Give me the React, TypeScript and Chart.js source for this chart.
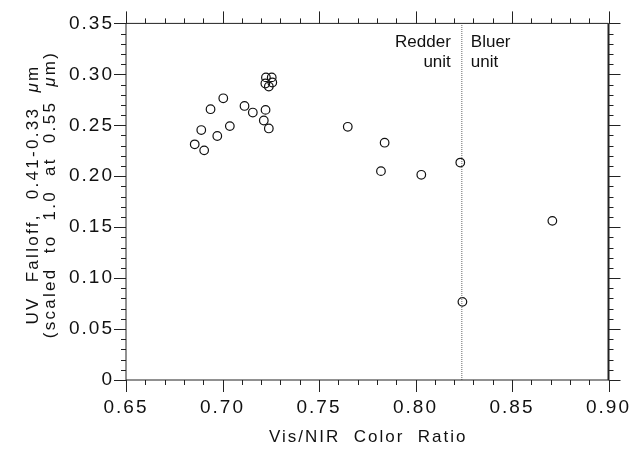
import React, { useEffect, useRef } from "react";
import { Chart, registerables } from "chart.js";

Chart.register(...registerables);

// ---- data ----
const colorRatio = [
  0.6856, 0.689, 0.6905, 0.6938, 0.6973, 0.7004, 0.7038, 0.7114, 0.7157, 0.7214,
  0.7223, 0.724, 0.7225, 0.7255, 0.7222, 0.7258, 0.724, 0.7649, 0.7821, 0.784,
  0.803, 0.8232, 0.8243, 0.8709,
];
const uvFalloff = [
  0.2313, 0.2453, 0.2254, 0.2658, 0.2395, 0.2765, 0.2492, 0.269, 0.2625, 0.2547,
  0.2651, 0.2469, 0.297, 0.297, 0.291, 0.292, 0.288, 0.2485, 0.205, 0.2329,
  0.2014, 0.2134, 0.0767, 0.1562,
];
const dividerX = [0.824, 0.824];
const dividerY = [0, 0.35];
const xRange = [0.65, 0.9];
const yRange = [0, 0.35];
const xTitle = "Vis/NIR  Color  Ratio";
const yTitle1 = [
  { t: "UV  Falloff,  0.41-0.33  ", i: false },
  { t: "μ", i: true },
  { t: "m", i: false },
];
const yTitle2 = [
  { t: "(scaled  to  1.0  at  0.55  ", i: false },
  { t: "μ", i: true },
  { t: "m)", i: false },
];
const leftLabel = ["Redder", "unit"];
const rightLabel = ["Bluer", "unit"];

const FAMILY = "'Liberation Sans', Arial, sans-serif";

function drawSegs(
  ctx: CanvasRenderingContext2D,
  segs: { t: string; i: boolean }[],
  x: number,
  y: number,
  align: "left" | "center" | "right",
  size: number,
  ls: number
) {
  ctx.letterSpacing = ls + "px";
  let total = 0;
  const widths: number[] = [];
  for (const s of segs) {
    ctx.font = (s.i ? "italic " : "") + size + "px " + FAMILY;
    const w = ctx.measureText(s.t).width;
    widths.push(w);
    total += w;
  }
  total -= ls;
  let cx = align === "left" ? x : align === "center" ? x - total / 2 : x - total;
  ctx.textAlign = "left";
  ctx.textBaseline = "alphabetic";
  segs.forEach((s, k) => {
    ctx.font = (s.i ? "italic " : "") + size + "px " + FAMILY;
    ctx.fillText(s.t, cx, y);
    cx += widths[k];
  });
}

const framePlugin = {
  id: "frame",
  beforeDraw(chart: any) {
    chart.ctx.letterSpacing = "2px";
  },
  afterDraw(chart: any) {
    const ctx: CanvasRenderingContext2D = chart.ctx;
    const xs = chart.scales.x;
    const ys = chart.scales.y;
    const { left, right, top, bottom } = chart.chartArea;
    ctx.save();
    ctx.letterSpacing = "0px";
    ctx.strokeStyle = "#222";
    ctx.lineWidth = 1;
    // frame
    ctx.beginPath();
    ctx.moveTo(left, top);
    ctx.lineTo(right, top);
    ctx.moveTo(left, bottom);
    ctx.lineTo(right, bottom);
    ctx.moveTo(left, top);
    ctx.lineTo(left, bottom);
    ctx.stroke();
    ctx.lineWidth = 2;
    ctx.beginPath();
    ctx.moveTo(right, top);
    ctx.lineTo(right, bottom);
    ctx.stroke();
    ctx.lineWidth = 1;
    // ticks (major every 0.05, minor every 0.01, pointing outward)
    ctx.beginPath();
    for (let k = 0; k <= 25; k++) {
      const v = xRange[0] + k * 0.01;
      const p = Math.round(xs.getPixelForValue(v)) + 0.5;
      const len = k % 5 === 0 ? 12 : 5;
      ctx.moveTo(p, bottom);
      ctx.lineTo(p, bottom + len);
      ctx.moveTo(p, top);
      ctx.lineTo(p, top - len);
    }
    for (let k = 0; k <= 35; k++) {
      const v = yRange[0] + k * 0.01;
      const p = Math.round(ys.getPixelForValue(v)) + 0.5;
      const len = k % 5 === 0 ? 12 : 5;
      ctx.moveTo(left, p);
      ctx.lineTo(left - len, p);
      ctx.moveTo(right, p);
      ctx.lineTo(right + len, p);
    }
    ctx.stroke();

    ctx.fillStyle = "#111";
    // axis titles
    drawSegs(ctx, [{ t: xTitle, i: false }], (left + right) / 2, 442, "center", 17, 2);
    const cy = (top + bottom) / 2 - 6;
    ctx.save();
    ctx.translate(37.5, cy);
    ctx.rotate(-Math.PI / 2);
    drawSegs(ctx, yTitle1, 0, 0, "center", 17, 2.3);
    ctx.restore();
    ctx.save();
    ctx.translate(55, cy);
    ctx.rotate(-Math.PI / 2);
    drawSegs(ctx, yTitle2, 0, 0, "center", 17, 2.3);
    ctx.restore();

    // region labels
    const dx = xs.getPixelForValue(dividerX[0]);
    drawSegs(ctx, [{ t: leftLabel[0], i: false }], dx - 11, top + 24, "right", 17, 0);
    drawSegs(ctx, [{ t: leftLabel[1], i: false }], dx - 11, top + 44, "right", 17, 0);
    drawSegs(ctx, [{ t: rightLabel[0], i: false }], dx + 9, top + 24, "left", 17, 0);
    drawSegs(ctx, [{ t: rightLabel[1], i: false }], dx + 9, top + 44, "left", 17, 0);
    ctx.restore();
  },
};

export default function App() {
  const ref = useRef<HTMLCanvasElement | null>(null);
  useEffect(() => {
    if (!ref.current) return;
    const chart = new Chart(ref.current, {
      type: "scatter",
      data: {
        datasets: [
          {
            type: "line",
            data: dividerX.map((x, k) => ({ x, y: dividerY[k] })),
            borderColor: "#666",
            borderWidth: 1,
            borderDash: [1, 1],
            pointRadius: 0,
            fill: false,
          } as any,
          {
            data: colorRatio.map((x, k) => ({ x, y: uvFalloff[k] })),
            pointStyle: "circle",
            pointRadius: 4.3,
            pointBorderWidth: 1.2,
            borderColor: "#111",
            backgroundColor: "rgba(0,0,0,0)",
          },
        ],
      },
      options: {
        responsive: false,
        animation: false,
        devicePixelRatio: 1,
        layout: { padding: { left: 0, top: 21, right: 34, bottom: 0 } },
        plugins: { legend: { display: false }, tooltip: { enabled: false } },
        scales: {
          x: {
            type: "linear",
            min: xRange[0],
            max: xRange[1],
            grid: { display: false, drawTicks: false },
            border: { display: false },
            ticks: {
              stepSize: 0.05,
              padding: 16,
              color: "#111",
              font: { family: FAMILY, size: 19 },
              callback: (v: any) => Number(v).toFixed(2),
            },
            afterFit: (s: any) => {
              s.height = 70;
            },
          },
          y: {
            type: "linear",
            min: yRange[0],
            max: yRange[1],
            grid: { display: false, drawTicks: false },
            border: { display: false },
            ticks: {
              stepSize: 0.05,
              padding: 12,
              color: "#111",
              font: { family: FAMILY, size: 19 },
              callback: (v: any) => (Number(v) === 0 ? "0" : Number(v).toFixed(2)),
            },
            afterFit: (s: any) => {
              s.width = 126;
            },
          },
        },
      },
      plugins: [framePlugin],
    });
    return () => chart.destroy();
  }, []);
  return (
    <div style={{ position: "absolute", left: 0, top: 0, width: 643, height: 450, background: "#fff" }}>
      <canvas ref={ref} width={643} height={450} />
    </div>
  );
}
